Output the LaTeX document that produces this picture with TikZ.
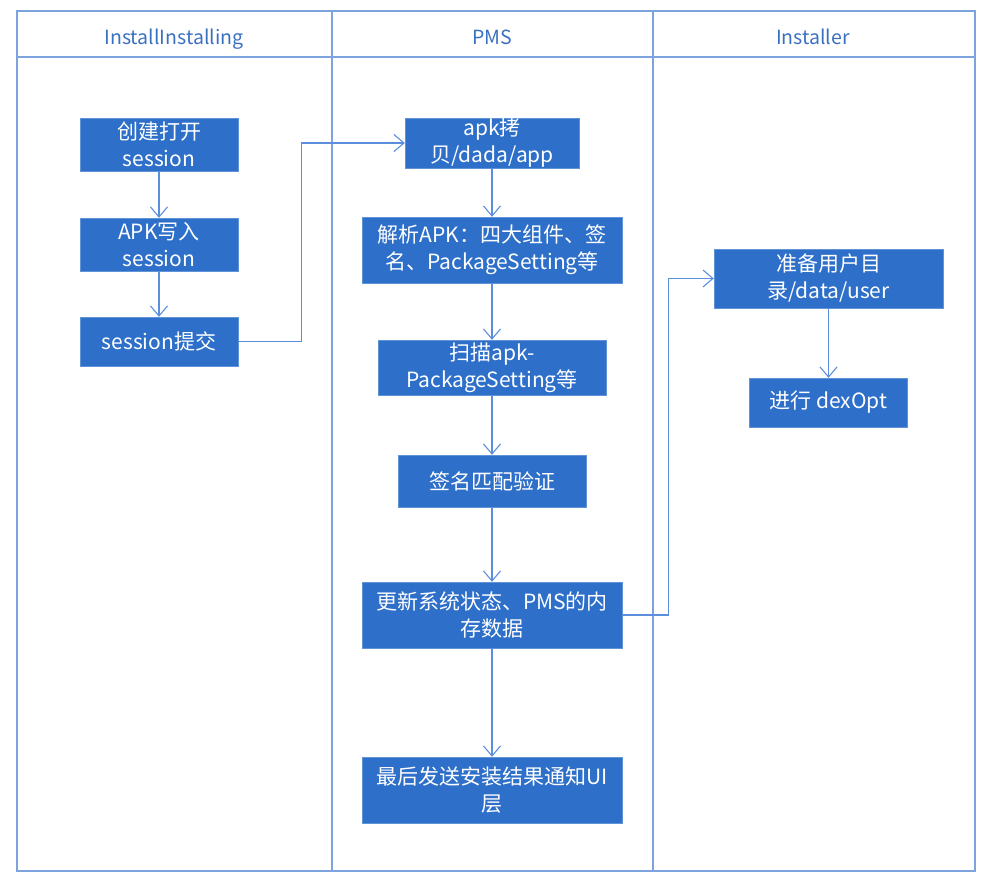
\documentclass[tikz,border=0pt]{standalone}
\usepackage{fontspec}
\newfontfamily\cjk{Noto Sans CJK SC}
\usetikzlibrary{arrows.meta}
\definecolor{boxblue}{RGB}{45,111,201}
\definecolor{lineblue}{RGB}{92,142,222}
\definecolor{laneblue}{RGB}{125,163,222}
\definecolor{headblue}{RGB}{58,112,192}

\begin{document}
\begin{tikzpicture}[x=1pt,y=-1pt,
    stepbox/.style={fill=boxblue,draw=boxblue!75!white,text=white,align=center,
      inner sep=0pt,font=\cjk\fontsize{21}{27}\selectfont},
    headtext/.style={text=headblue,anchor=base,font=\cjk\fontsize{19.5}{22}\selectfont},
    flow/.style={draw=lineblue,line width=1.1pt,-{Straight Barb[length=10pt,width=17pt]}},
    lane/.style={draw=laneblue,line width=2pt}]
	\useasboundingbox (0,0) rectangle (988,884);
	
	% draw the lanes
	\draw[lane] (17,11) rectangle (975,871);
	\draw[lane] (17,57) -- (975,57);
	\foreach \x in {332,653}
	\draw[lane] (\x,11) -- (\x,871);
	
	% draw lane titles
	\node[headtext] (h1) at (174,44.5) {InstallInstalling};
	\node[headtext] (h2) at (492,44.5) {PMS};
	\node[headtext] (h3) at (813,44.5) {Installer};
	
	% draw steps of InstallInstalling
	\node[stepbox,minimum width=158pt,minimum height=53pt] (s1) at (159,144.5) {创建打开\\session};
	\node[stepbox,minimum width=158pt,minimum height=53pt] (s2) at (159,244.5) {APK写入\\session};
	\node[stepbox,minimum width=158pt,minimum height=49pt] (s3) at (159,341.5) {session提交};
	
	% draw steps of PMS
	\node[stepbox,minimum width=174pt,minimum height=50pt] (p1) at (492,143) {apk拷\\贝/dada/app};
	\node[stepbox,minimum width=260pt,minimum height=66pt] (p2) at (492,250) {解析APK：四大组件、签\\名、PackageSetting等};
	\node[stepbox,minimum width=228pt,minimum height=55pt] (p3) at (492,367.5) {扫描apk-\\PackageSetting等};
	\node[stepbox,minimum width=188pt,minimum height=52pt] (p4) at (492,481) {签名匹配验证};
	\node[stepbox,minimum width=260pt,minimum height=66pt] (p5) at (492,615) {更新系统状态、PMS的内\\存数据};
	\node[stepbox,minimum width=260pt,minimum height=66pt] (p6) at (492,790) {最后发送安装结果通知UI\\层};
	
	% draw steps of Installer
	\node[stepbox,minimum width=229pt,minimum height=59pt] (i1) at (828.5,278.5) {准备用户目\\录/data/user};
	\node[stepbox,minimum width=158pt,minimum height=49pt] (i2) at (828.5,402.5) {进行 dexOpt};
	
	% draw arrows
	\draw[flow] (s1.south) -- (s2.north);
	\draw[flow] (s2.south) -- (s3.north);
	\draw[flow] (s3.east) -- ++(63,0) |- (p1.west);
	\draw[flow] (p1.south) -- (p2.north);
	\draw[flow] (p2.south) -- (p3.north);
	\draw[flow] (p3.south) -- (p4.north);
	\draw[flow] (p4.south) -- (p5.north);
	\draw[flow] (p5.south) -- (p6.north);
	\draw[flow] (p5.east) -- ++(46,0) |- (i1.west);
	\draw[flow] (i1.south) -- (i2.north);
\end{tikzpicture}
\end{document}
